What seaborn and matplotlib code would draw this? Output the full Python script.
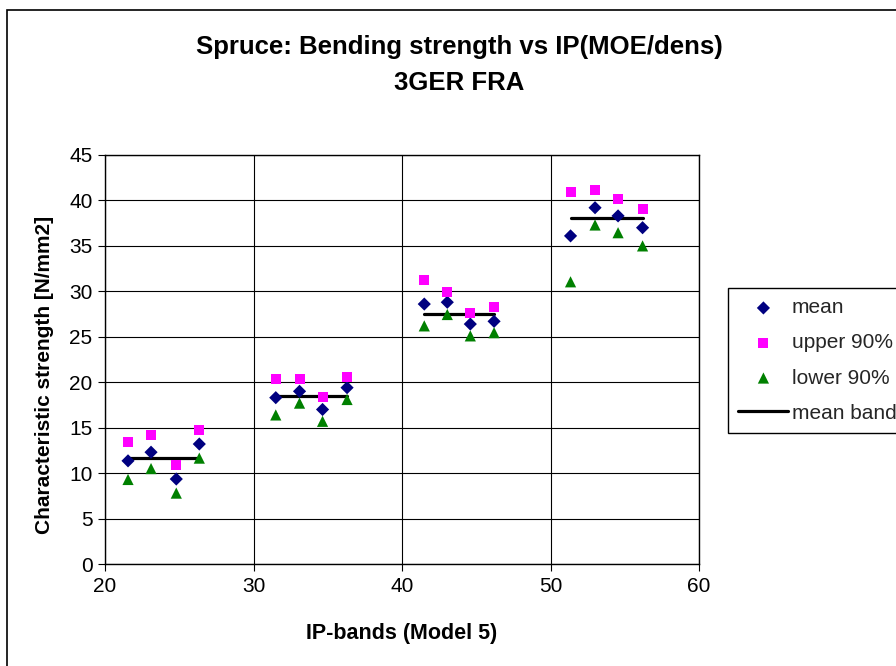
import numpy as np
import pandas as pd
import matplotlib
matplotlib.use("Agg")
import matplotlib.pyplot as plt
import matplotlib.patches as mpatches
import seaborn as sns

# ---- data ----
ip_x = [21.55, 23.1, 24.8, 26.35,
        31.5, 33.1, 34.65, 36.3,
        41.5, 43.05, 44.6, 46.2,
        51.35, 53.0, 54.55, 56.2]
mean_vals = [11.35, 12.3, 9.35, 13.2,
             18.3, 19.0, 17.0, 19.4,
             28.6, 28.8, 26.4, 26.7,
             36.1, 39.2, 38.3, 37.0]
upper_vals = [13.45, 14.2, 10.9, 14.75,
              20.4, 20.4, 18.4, 20.6,
              31.2, 29.95, 27.6, 28.3,
              40.95, 41.1, 40.2, 39.1]
lower_vals = [9.3, 10.5, 7.8, 11.65,
              16.4, 17.7, 15.7, 18.1,
              26.2, 27.45, 25.1, 25.45,
              31.05, 37.3, 36.45, 35.0]
band_groups = ["A", "B", "C", "D"]
band_x_start = [21.55, 31.5, 41.5, 51.35]
band_x_end = [26.35, 36.3, 46.2, 56.2]
band_y = [11.7, 18.5, 27.5, 38.1]

x_ticks = [20, 30, 40, 50, 60]
y_ticks = [0, 5, 10, 15, 20, 25, 30, 35, 40, 45]

title_1 = "Spruce: Bending strength vs IP(MOE/dens)"
title_2 = "3GER FRA"
x_label = "IP-bands (Model 5)"
y_label = "Characteristic strength [N/mm2]"

# ---- tables ----
pts = pd.DataFrame({"x": ip_x, "mean": mean_vals, "upper": upper_vals, "lower": lower_vals})
band = pd.DataFrame({
    "group": band_groups * 2,
    "x": band_x_start + band_x_end,
    "y": band_y * 2,
})

sns.set_theme(style="white")
plt.rcParams["font.family"] = ["Liberation Sans", "DejaVu Sans"]

W, H = 896, 666
fig = plt.figure(figsize=(W / 100, H / 100), dpi=100)
ax = fig.add_axes([105 / W, 1 - 564 / H, (699 - 105) / W, (564 - 155) / H])

sns.scatterplot(data=pts, x="x", y="mean", ax=ax, marker="D", s=45, color="#000080",
                edgecolor="none", label="mean", zorder=3)
sns.scatterplot(data=pts, x="x", y="upper", ax=ax, marker="s", s=52, color="#FF00FF",
                edgecolor="none", label="upper 90%", zorder=3)
sns.scatterplot(data=pts, x="x", y="lower", ax=ax, marker="^", s=65, color="#008000",
                edgecolor="none", label="lower 90%", zorder=3)
sns.lineplot(data=band, x="x", y="y", units="group", estimator=None, ax=ax,
             color="black", linewidth=2.3, label="mean band", zorder=2)

ax.set_xlim(20, 60)
ax.set_ylim(0, 45)
ax.set_xticks(x_ticks)
ax.set_yticks(y_ticks)
ax.set_xticklabels([str(v) for v in x_ticks])
ax.set_yticklabels([str(v) for v in y_ticks])
ax.grid(True, color="black", linewidth=0.8)
ax.set_axisbelow(True)
for s in ax.spines.values():
    s.set_color("black")
    s.set_linewidth(1.0)
ax.tick_params(axis="both", direction="out", length=5, width=0.8, color="black",
               labelsize=15, labelcolor="black", bottom=True, left=True, pad=4)

ax.set_xlabel(x_label, fontsize=15.5, fontweight="bold", color="black", va="center")
ax.set_ylabel(y_label, fontsize=15, fontweight="bold", color="black", va="center")
ax.xaxis.set_label_coords(0.5, (564 - 633) / 409)
ax.yaxis.set_label_coords((45 - 105) / 594, (564 - 375) / 409)

fig.text(459 / W, 1 - 47 / H, title_1, ha="center", va="center", fontsize=18.5,
         fontweight="bold", color="black")
fig.text(459 / W, 1 - 83 / H, title_2, ha="center", va="center", fontsize=18.5,
         fontweight="bold", color="black")

handles, labels = ax.get_legend_handles_labels()
leg = ax.legend(handles[:4], labels[:4], loc="upper left",
                bbox_to_anchor=(728 / W, 1 - 288 / H), bbox_transform=fig.transFigure,
                frameon=True, fancybox=False, edgecolor="black", framealpha=1,
                fontsize=15, borderaxespad=0, borderpad=0.5, labelspacing=0.77,
                handlelength=2.4, handletextpad=0.15)
leg.get_frame().set_linewidth(1.0)

# outer chart border
fig.patches.append(mpatches.Rectangle((7 / W, -0.5), 1.5, 1.5 - 10 / H,
                                      transform=fig.transFigure, fill=False,
                                      edgecolor="black", linewidth=1.2))

fig.savefig("out.png", dpi=100)
